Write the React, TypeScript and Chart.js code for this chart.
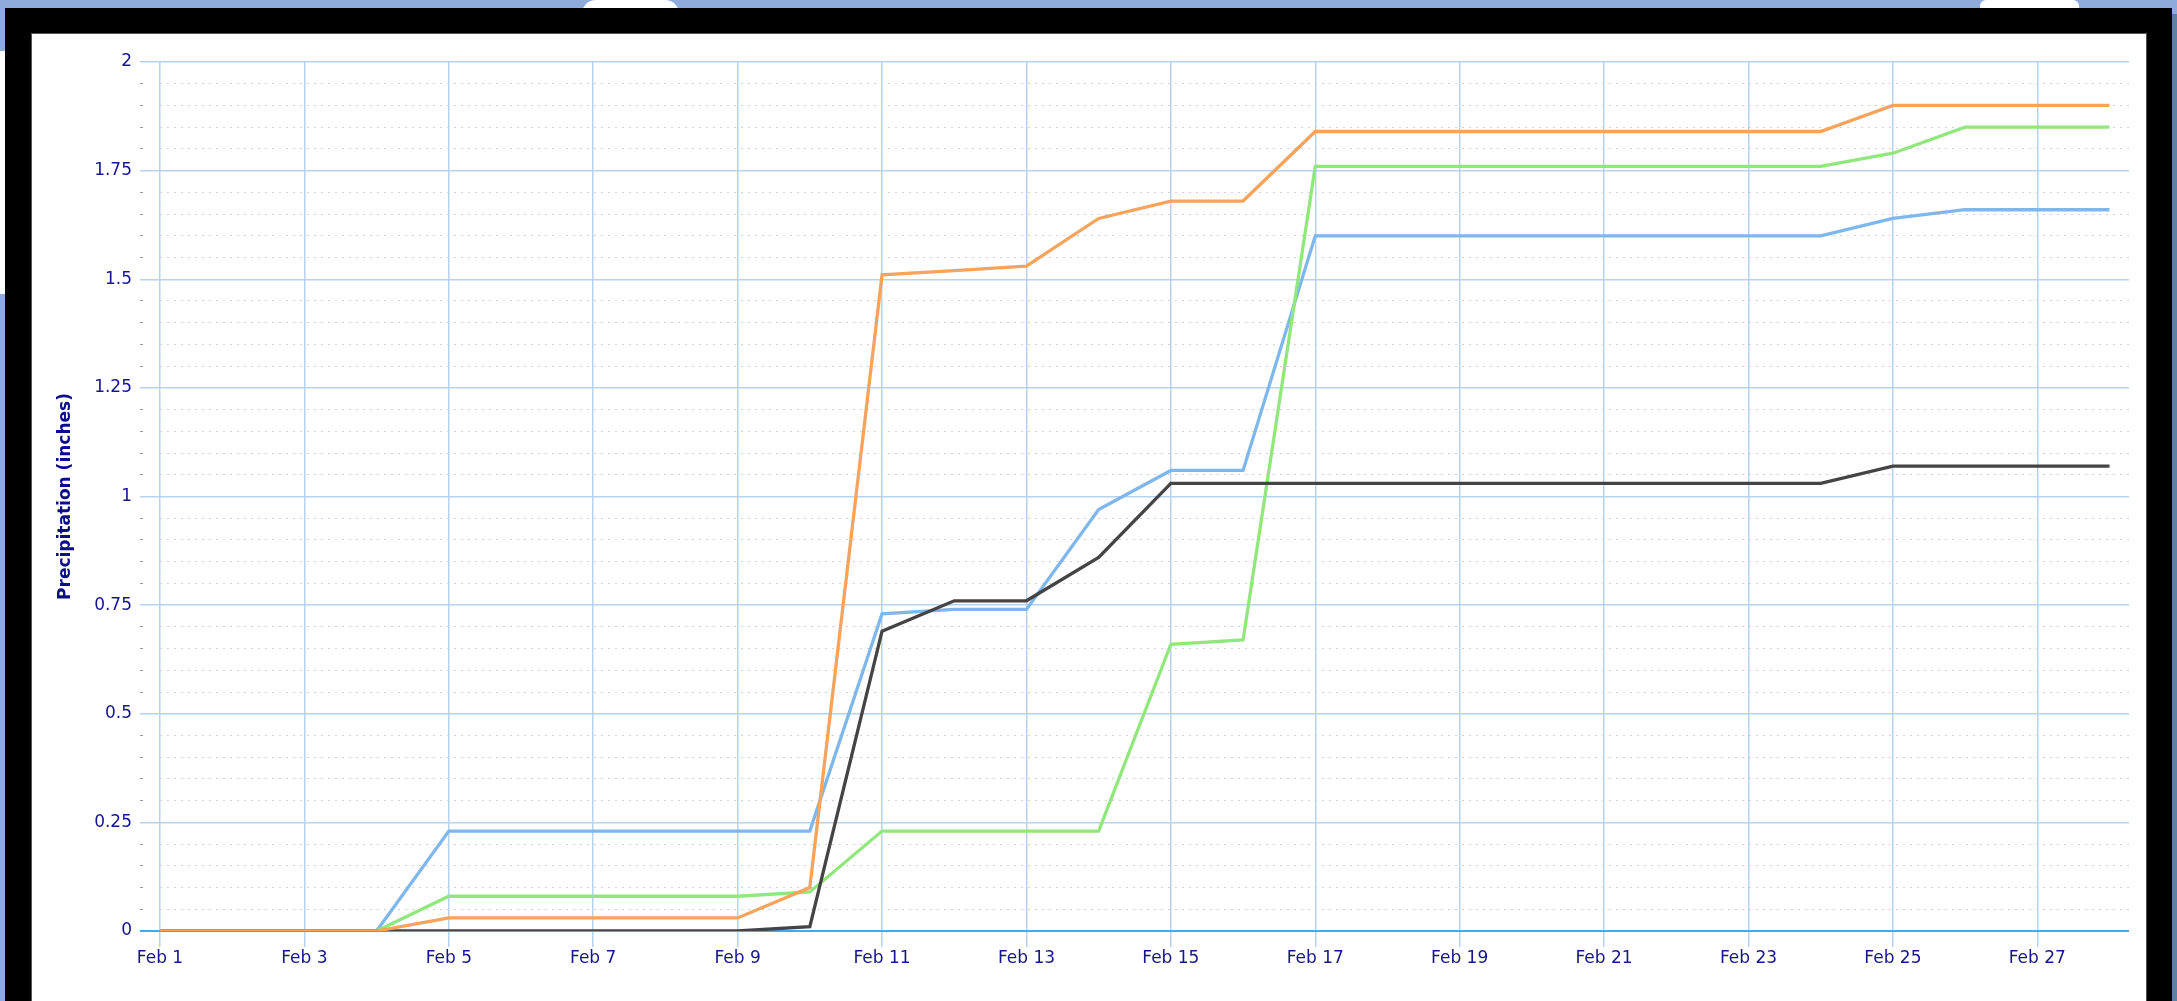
import React, { useEffect, useRef } from "react";
import { Chart, registerables } from "chart.js";

Chart.register(...registerables);

const dayLabels = [
  "Feb 1", "Feb 2", "Feb 3", "Feb 4", "Feb 5", "Feb 6", "Feb 7", "Feb 8", "Feb 9", "Feb 10",
  "Feb 11", "Feb 12", "Feb 13", "Feb 14", "Feb 15", "Feb 16", "Feb 17", "Feb 18", "Feb 19", "Feb 20",
  "Feb 21", "Feb 22", "Feb 23", "Feb 24", "Feb 25", "Feb 26", "Feb 27", "Feb 28",
];

const orangeSeries = [
  0, 0, 0, 0, 0.03, 0.03, 0.03, 0.03, 0.03, 0.1,
  1.51, 1.52, 1.53, 1.64, 1.68, 1.68, 1.84, 1.84, 1.84, 1.84,
  1.84, 1.84, 1.84, 1.84, 1.9, 1.9, 1.9, 1.9,
];
const darkSeries = [
  0, 0, 0, 0, 0, 0, 0, 0, 0, 0.01,
  0.69, 0.76, 0.76, 0.86, 1.03, 1.03, 1.03, 1.03, 1.03, 1.03,
  1.03, 1.03, 1.03, 1.03, 1.07, 1.07, 1.07, 1.07,
];
const greenSeries = [
  0, 0, 0, 0, 0.08, 0.08, 0.08, 0.08, 0.08, 0.09,
  0.23, 0.23, 0.23, 0.23, 0.66, 0.67, 1.76, 1.76, 1.76, 1.76,
  1.76, 1.76, 1.76, 1.76, 1.79, 1.85, 1.85, 1.85,
];
const blueSeries = [
  0, 0, 0, 0, 0.23, 0.23, 0.23, 0.23, 0.23, 0.23,
  0.73, 0.74, 0.74, 0.97, 1.06, 1.06, 1.6, 1.6, 1.6, 1.6,
  1.6, 1.6, 1.6, 1.6, 1.64, 1.66, 1.66, 1.66,
];

const yTitle = "Precipitation (inches)";
const FONT = "'DejaVu Sans', sans-serif";
const LABEL_COLOR = "#15158e";
const MAJOR = "#b7d2ec";
const ZERO = "#45aaea";
const MINOR = "#d2d2d2";

const isMajor = (v: number) => Math.abs(v * 4 - Math.round(v * 4)) < 1e-6;
const toPoints = (arr: number[]) => arr.map((y, i) => ({ x: i, y }));

export default function App() {
  const ref = useRef<HTMLCanvasElement | null>(null);

  useEffect(() => {
    const canvas = ref.current;
    if (!canvas) return;
    const chart = new Chart(canvas, {
      type: "line",
      data: {
        datasets: [
          { label: "orange", data: toPoints(orangeSeries), borderColor: "#f6a35c" },
          { label: "dark", data: toPoints(darkSeries), borderColor: "#444444" },
          { label: "green", data: toPoints(greenSeries), borderColor: "#90e77b" },
          { label: "blue", data: toPoints(blueSeries), borderColor: "#7db7ec" },
        ].map((d) => ({ ...d, borderWidth: 3.3, pointRadius: 0, tension: 0, fill: false })),
      },
      options: {
        responsive: false,
        animation: false,
        devicePixelRatio: 1,
        layout: { padding: { top: 28, right: 17, left: 0, bottom: 0 } },
        plugins: { legend: { display: false }, tooltip: { enabled: false } },
        scales: {
          x: {
            type: "linear",
            min: 0,
            max: 27.27,
            afterFit: (s: any) => {
              s.height = 70;
            },
            border: { display: false },
            grid: {
              color: MAJOR,
              tickColor: MAJOR,
              lineWidth: 1.5,
              tickLength: 16,
            },
            ticks: {
              stepSize: 2,
              includeBounds: false,
              autoSkip: false,
              maxRotation: 0,
              padding: 1,
              color: LABEL_COLOR,
              font: { family: FONT, size: 17 },
              callback: (v: any) => dayLabels[Math.round(Number(v))] ?? "",
            },
          },
          y: {
            min: 0,
            max: 2,
            afterFit: (s: any) => {
              s.width = 128;
            },
            border: {
              display: false,
              dash: (ctx: any) => (ctx.tick && isMajor(ctx.tick.value) ? [] : [2, 5]),
            },
            grid: {
              color: (ctx: any) =>
                ctx.tick && ctx.tick.value === 0 ? ZERO : ctx.tick && isMajor(ctx.tick.value) ? MAJOR : MINOR,
              tickColor: (ctx: any) =>
                ctx.tick && ctx.tick.value === 0 ? ZERO : ctx.tick && isMajor(ctx.tick.value) ? MAJOR : "#9a9a9a",
              lineWidth: (ctx: any) =>
                ctx.tick && ctx.tick.value === 0 ? 2 : ctx.tick && isMajor(ctx.tick.value) ? 1.5 : 1,
              tickBorderDash: (ctx: any) => (ctx.tick && isMajor(ctx.tick.value) ? [] : [3, 100]),
              tickLength: 20,
            },
            ticks: {
              stepSize: 0.05,
              autoSkip: false,
              padding: 8,
              color: LABEL_COLOR,
              font: { family: FONT, size: 17 },
              callback: (v: any) => {
                const n = Number(v);
                if (!isMajor(n)) return "";
                return String(Math.round(n * 100) / 100);
              },
            },
            title: {
              display: true,
              text: yTitle,
              color: "#0d0d8a",
              font: { family: FONT, size: 17, weight: "bold" },
              padding: { top: 23, bottom: 0 },
            },
          },
        },
      },
    } as any);
    return () => chart.destroy();
  }, []);

  return (
    <div
      style={{
        position: "fixed",
        left: 0,
        top: 0,
        width: 2177,
        height: 1001,
        background: "#8eabdc",
        overflow: "hidden",
      }}
    >
      <div style={{ position: "absolute", left: 582, top: 0, width: 97, height: 14, background: "#fff", borderRadius: "40px 40px 0 0" }} />
      <div style={{ position: "absolute", left: 1980, top: 0, width: 99, height: 14, background: "#fff", borderRadius: "6px 6px 0 0" }} />
      <div style={{ position: "absolute", left: 0, top: 51, width: 8, height: 243, background: "#fff" }} />
      <div style={{ position: "absolute", left: 2170, top: 14, width: 7, height: 987, background: "#5f7fa8" }} />
      <div style={{ position: "absolute", left: 5, top: 8, width: 2167, height: 993, background: "#000" }} />
      <div
        style={{
          position: "absolute",
          left: 32,
          top: 34,
          width: 2114,
          height: 967,
          background: "#fff",
          boxShadow: "0 0 0 1px #555",
        }}
      >
        <canvas ref={ref} width={2114} height={967} style={{ display: "block", width: 2114, height: 967 }} />
      </div>
    </div>
  );
}
